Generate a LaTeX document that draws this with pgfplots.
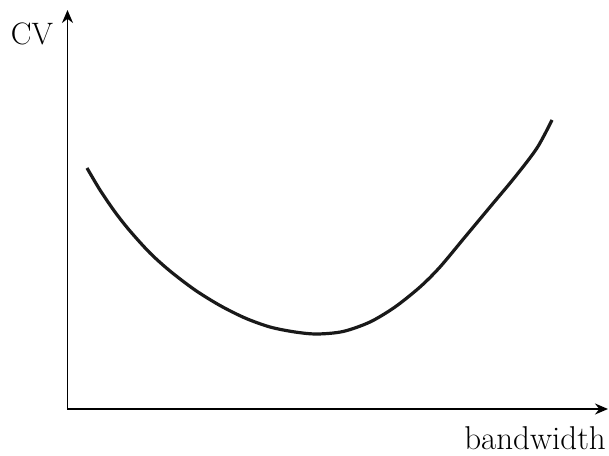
\documentclass[border=0pt]{standalone}
\usepackage{pgfplots}
\pgfplotsset{compat=1.18}
\usetikzlibrary{arrows.meta}
\begin{document}
\begin{tikzpicture}[x=1pt,y=1pt]
\begin{axis}[
  scale only axis,
  x=1pt, y=1pt,
  xmin=67.5, xmax=608, ymin=46, ymax=445,
  axis lines=left,
  axis line style={line width=1.8pt},
  x axis line style={-{Stealth[length=13pt,width=11pt]}},
  y axis line style={-{Stealth[length=13pt,width=11pt]}},
  xtick=\empty, ytick=\empty,
  clip=false,
]
\addplot[line width=3.2pt, smooth, tension=0.5, black!90] coordinates {
(87,287) (100,265) (115,243) (130,224) (150,202) (170,184) (195,165)
(220,149.5) (245,137) (270,128) (295,123) (317,121) (343,123.5)
(370,133) (395,148) (420,168) (440,188) (465,218) (490,248)
(515,278) (537,307) (552,335)
};
\node[anchor=base, font=\fontsize{31}{34}\selectfont] at (axis cs:32,410) {CV};
\node[anchor=base east, inner sep=0pt, font=\fontsize{33}{36}\selectfont] at (axis cs:606,6) {bandwidth};
\coordinate (bl) at (axis cs:0,0);
\coordinate (tr) at (axis cs:609,455);
\end{axis}
\pgfresetboundingbox
\path (bl) rectangle (tr);
\end{tikzpicture}
\end{document}
